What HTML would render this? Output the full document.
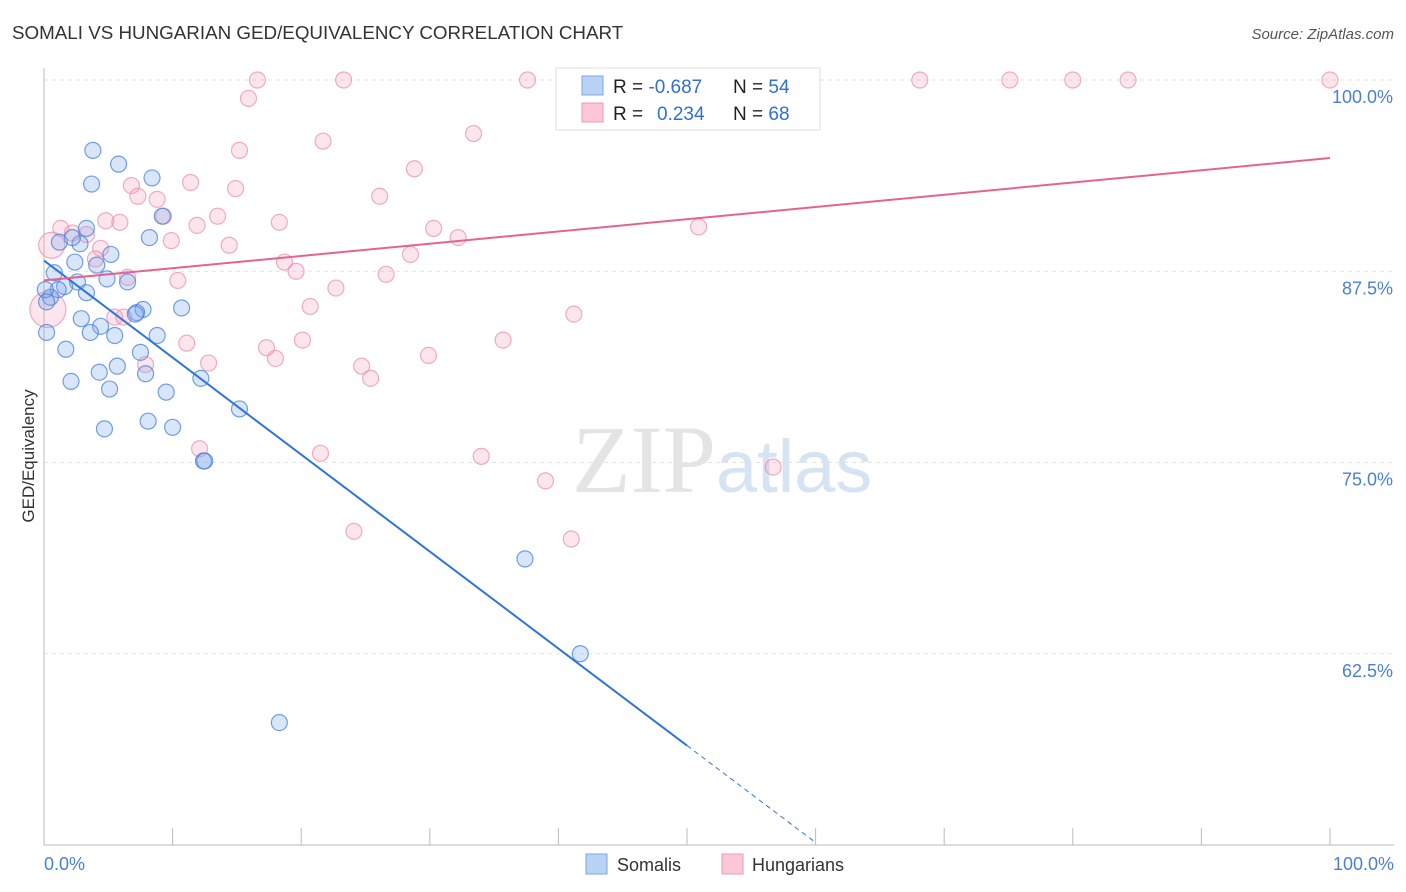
<!DOCTYPE html>
<html><head><meta charset="utf-8"><style>
body{margin:0;background:#fff;font-family:"Liberation Sans",sans-serif;}
svg{display:block}
</style></head><body>
<svg width="1406" height="892" xmlns="http://www.w3.org/2000/svg" id="chart">
<text x="12" y="39" font-size="18.8" fill="#333">SOMALI VS HUNGARIAN GED/EQUIVALENCY CORRELATION CHART</text>
<text x="1394" y="39" font-size="15" fill="#555" text-anchor="end" font-style="italic">Source: ZipAtlas.com</text>
<text x="716" y="492" font-size="96" fill="#e4e4e4" text-anchor="end" font-family="Liberation Serif,serif">ZIP</text>
<text x="716" y="492" font-size="74" fill="#d6e3f3">atlas</text>
<g id="grid"></g>
<g id="axes"></g>
<g id="pts"></g>
<g id="lines"></g>
<text transform="translate(34,456) rotate(-90)" font-size="17" fill="#333" text-anchor="middle">GED/Equivalency</text>
<text x="44" y="870" font-size="18" fill="#4a7fd4">0.0%</text>
<text x="1394" y="870" font-size="18" fill="#4a7fd4" text-anchor="end">100.0%</text>
<g>
<rect x="556" y="68" width="264" height="62" fill="#fff" stroke="#ddd"/>
<rect x="582" y="76" width="21" height="19" fill="#b9d3f5" stroke="#7aa6e6"/>
<rect x="582" y="103" width="21" height="19" fill="#fcc7d7" stroke="#ee9ab6"/>
<text x="613" y="93" font-size="19" fill="#222">R = <tspan fill="#2f6fd6">-0.687</tspan></text>
<text x="733" y="93" font-size="19" fill="#222">N = <tspan fill="#2f6fd6">54</tspan></text>
<text x="613" y="120" font-size="19" fill="#222">R = <tspan fill="#2f6fd6" x="657">0.234</tspan></text>
<text x="733" y="120" font-size="19" fill="#222">N = <tspan fill="#2f6fd6">68</tspan></text>
</g>
<g>
<rect x="586" y="854" width="21" height="20" fill="#b9d3f5" stroke="#7aa6e6"/>
<text x="617" y="871" font-size="18" fill="#333">Somalis</text>
</g>
<g>
<rect x="722" y="854" width="21" height="20" fill="#fcc7d7" stroke="#ee9ab6"/>
<text x="752" y="871" font-size="18" fill="#333">Hungarians</text>
</g>
</svg>
<script>
const yTicks=[100,87.5,75,62.5];
const yTickLabels=["100.0%","87.5%","75.0%","62.5%"];
const xTicks=[0,10,20,30,40,50,60,70,80,90,100];
const somaliX=[3.8,5.8,3.7,8.4,9.2,8.2,3.3,1.2,2.8,5.2,2.4,0.8,4.1,4.9,2.6,1.6,1.1,0.5,3.3,0.1,6.5,7.7,7.2,10.7,2.9,4.4,3.6,5.5,8.8,0.2,1.7,7.5,4.3,5.7,2.1,7.9,5.1,9.5,12.2,15.2,8.1,10.0,4.7,12.4,12.5,37.4,41.7,18.3,7.1,0.2,2.2];
const somaliY=[95.4,94.5,93.2,93.6,91.1,89.7,90.3,89.4,89.3,88.6,88.1,87.4,87.9,87.0,86.8,86.5,86.3,85.8,86.1,86.3,86.8,85.0,84.8,85.1,84.4,83.9,83.5,83.3,83.3,83.5,82.4,82.2,80.9,81.3,80.3,80.8,79.8,79.6,80.5,78.5,77.7,77.3,77.2,75.1,75.1,68.7,62.5,58.0,84.7,85.5,89.7];
const hungX=[16.6,23.3,37.6,53.8,68.1,75.1,80.0,84.3,100,15.9,33.4,21.7,15.2,28.8,11.4,6.8,14.9,26.1,7.3,8.8,13.5,4.8,5.9,9.3,18.3,11.9,1.3,2.2,3.3,30.3,50.9,9.9,32.2,14.4,4.4,4.0,28.5,18.7,19.6,26.6,6.5,10.4,22.7,20.7,5.5,6.2,41.2,11.1,20.1,17.3,35.7,29.9,18.0,12.8,24.7,7.9,25.4,12.1,21.5,34.0,39.0,56.7,24.1,41.0,0.3,0.6];
const hungY=[100,100,100,100,100,100,100,100,100,98.8,96.5,96.0,95.4,94.2,93.3,93.1,92.9,92.4,92.4,92.2,91.1,90.8,90.7,91.1,90.7,90.5,90.3,90.0,89.9,90.3,90.4,89.5,89.7,89.2,89.0,88.3,88.6,88.1,87.5,87.3,87.1,86.9,86.4,85.2,84.5,84.5,84.7,82.8,83.0,82.5,83.0,82.0,81.8,81.5,81.3,81.4,80.5,75.9,75.6,75.4,73.8,74.7,70.5,70.0,85.0,89.2];
const hungR=[8,8,8,8,8,8,8,8,8,8,8,8,8,8,8,8,8,8,8,8,8,8,8,8,8,8,8,8,8,8,8,8,8,8,8,8,8,8,8,8,8,8,8,8,8,8,8,8,8,8,8,8,8,8,8,8,8,8,8,8,8,8,8,8,18,13];
const somaliTrend=[88.2,56.5];
const hungTrend=[86.9,94.9];
const NS="http://www.w3.org/2000/svg";
const X0=44,X1=1330,YT=80,YB=845;
const sx=v=>X0+(X1-X0)*v/100;
const sy=v=>YT+(YB-YT)*(100-v)/50;
function mk(tag,attrs,parent){const e=document.createElementNS(NS,tag);for(const k in attrs)e.setAttribute(k,attrs[k]);document.getElementById(parent).appendChild(e);return e;}
yTicks.forEach((t,i)=>{
 const l=mk('line',{x1:X0,x2:1394,y1:sy(t),y2:sy(t),stroke:'#e2e2e2','stroke-dasharray':'4,4'},'grid');
 
 
 const tx=mk('text',{x:1393,y:sy(t)+23,'font-size':18,fill:'#4a7fd4','text-anchor':'end'},'grid');
 tx.textContent=yTickLabels[i];
 
 
});
const ax=mk('line',{x1:X0,x2:X0,y1:68,y2:YB,stroke:'#bbb'},'axes');


const bx=mk('line',{x1:X0,x2:1394,y1:YB,y2:YB,stroke:'#bbb'},'axes');


xTicks.forEach(t=>{
 const l=mk('line',{x1:sx(t),x2:sx(t),y1:828,y2:YB,stroke:'#bbb'},'axes');
 
 
});
hungX.forEach((x,i)=>{
 const c=mk('circle',{cx:sx(x),cy:sy(hungY[i]),r:hungR[i],fill:'rgba(244,160,188,0.28)',stroke:'rgba(232,140,172,0.7)','stroke-width':1.2},'pts');
 
 
});
somaliX.forEach((x,i)=>{
 const c=mk('circle',{cx:sx(x),cy:sy(somaliY[i]),r:8,fill:'rgba(130,170,235,0.3)',stroke:'rgba(70,130,215,0.75)','stroke-width':1.2},'pts');
 
 
});
const slope=(somaliTrend[1]-somaliTrend[0])/50;
const l1=mk('line',{x1:sx(0),y1:sy(somaliTrend[0]),x2:sx(50),y2:sy(somaliTrend[1]),stroke:'#2f74d8','stroke-width':2},'lines');


const l2=mk('line',{x1:sx(50),y1:sy(somaliTrend[1]),x2:sx(60),y2:sy(somaliTrend[0]+slope*60),stroke:'#2f74d8','stroke-width':1,'stroke-dasharray':'5,4'},'lines');


const l3=mk('line',{x1:sx(0),y1:sy(hungTrend[0]),x2:sx(100),y2:sy(hungTrend[1]),stroke:'#e5638f','stroke-width':2},'lines');


</script>
</body></html>
